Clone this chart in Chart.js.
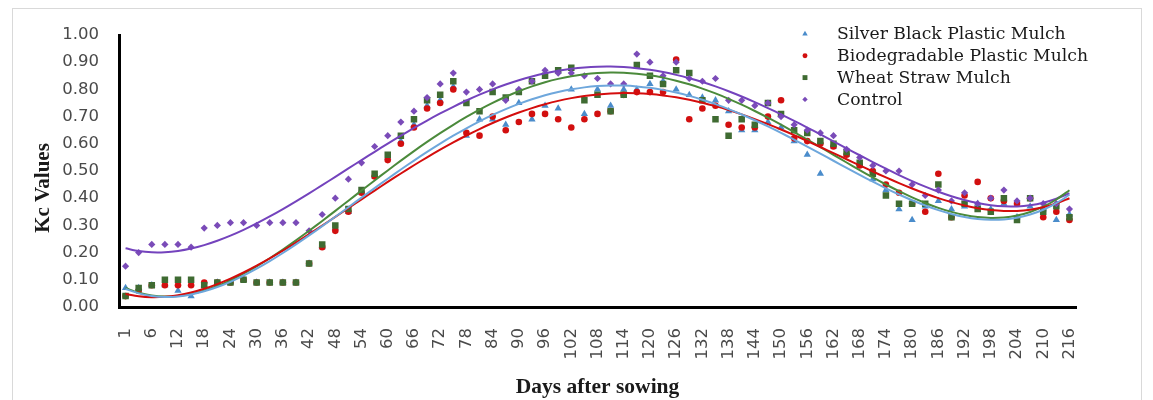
<!DOCTYPE html>
<html>
<head>
<meta charset="utf-8">
<script src="https://cdn.jsdelivr.net/npm/chart.js@4.4.1/dist/chart.umd.min.js"></script>
<style>
  html, body { margin: 0; padding: 0; background: #fff; }
  #wrap { position: relative; width: 1153px; height: 400px; overflow: hidden; }
  #frame { position: absolute; left: 12px; top: 8px; width: 1130px; height: 420px; border: 1px solid #d9d9d9; box-sizing: border-box; }
  #kc { position: absolute; left: 0; top: 0; }
</style>
</head>
<body>
<div id="wrap">
  <div id="frame"></div>
  <canvas id="kc" width="1153" height="400"></canvas>
</div>
<script>
// days after sowing (x categories)
const days = [1, 3, 6, 9, 12, 15, 18, 21, 24, 27, 30, 33, 36, 39, 42, 45, 48, 51, 54, 57,
  60, 63, 66, 69, 72, 75, 78, 81, 84, 87, 90, 93, 96, 99, 102, 105, 108, 111, 114, 117,
  120, 123, 126, 129, 132, 135, 138, 141, 144, 147, 150, 153, 156, 159, 162, 165, 168, 171,
  174, 177, 180, 183, 186, 189, 192, 195, 198, 201, 204, 207, 210, 213, 216];

const silverBlack = [0.07, 0.07, 0.08, 0.08, 0.06, 0.04, 0.08, 0.09, 0.09, 0.10, 0.09, 0.09, 0.09, 0.09, 0.16,
  0.22, 0.29, 0.35, 0.42, 0.48, 0.55, 0.61, 0.67, 0.74, 0.76, 0.81, 0.63, 0.69, 0.69, 0.67,
  0.75, 0.69, 0.74, 0.73, 0.80, 0.71, 0.80, 0.74, 0.80, 0.80, 0.82, 0.83, 0.80, 0.78, 0.77,
  0.76, 0.72, 0.65, 0.65, 0.68, 0.66, 0.61, 0.56, 0.49, 0.59, 0.56, 0.52, 0.47, 0.43, 0.36,
  0.32, 0.37, 0.39, 0.36, 0.37, 0.38, 0.36, 0.38, 0.33, 0.37, 0.36, 0.32, 0.34];

const biodegradable = [0.04, 0.06, 0.08, 0.08, 0.08, 0.08, 0.09, 0.09, 0.09, 0.10, 0.09, 0.09, 0.09, 0.09, 0.16,
  0.22, 0.28, 0.35, 0.42, 0.48, 0.54, 0.60, 0.66, 0.73, 0.75, 0.80, 0.64, 0.63, 0.70, 0.65,
  0.68, 0.71, 0.71, 0.69, 0.66, 0.69, 0.71, 0.72, 0.78, 0.79, 0.79, 0.79, 0.91, 0.69, 0.73,
  0.74, 0.67, 0.66, 0.66, 0.70, 0.76, 0.62, 0.61, 0.60, 0.59, 0.56, 0.52, 0.50, 0.45, 0.42,
  0.38, 0.35, 0.49, 0.33, 0.41, 0.46, 0.40, 0.39, 0.38, 0.40, 0.33, 0.35, 0.32];

const wheatStraw = [0.04, 0.07, 0.08, 0.10, 0.10, 0.10, 0.08, 0.09, 0.09, 0.10, 0.09, 0.09, 0.09, 0.09, 0.16,
  0.23, 0.30, 0.36, 0.43, 0.49, 0.56, 0.63, 0.69, 0.76, 0.78, 0.83, 0.75, 0.72, 0.79, 0.77,
  0.79, 0.83, 0.85, 0.87, 0.88, 0.76, 0.78, 0.72, 0.78, 0.89, 0.85, 0.82, 0.87, 0.86, 0.76,
  0.69, 0.63, 0.69, 0.67, 0.75, 0.71, 0.65, 0.64, 0.61, 0.60, 0.57, 0.53, 0.49, 0.41, 0.38,
  0.38, 0.38, 0.45, 0.33, 0.38, 0.36, 0.35, 0.40, 0.32, 0.40, 0.35, 0.37, 0.33];

const control = [0.15, 0.20, 0.23, 0.23, 0.23, 0.22, 0.29, 0.30, 0.31, 0.31, 0.30, 0.31, 0.31, 0.31, 0.28,
  0.34, 0.40, 0.47, 0.53, 0.59, 0.63, 0.68, 0.72, 0.77, 0.82, 0.86, 0.79, 0.80, 0.82, 0.76,
  0.80, 0.83, 0.87, 0.86, 0.86, 0.85, 0.84, 0.82, 0.82, 0.93, 0.90, 0.85, 0.90, 0.84, 0.83,
  0.84, 0.76, 0.76, 0.74, 0.75, 0.70, 0.67, 0.65, 0.64, 0.63, 0.58, 0.55, 0.52, 0.50, 0.50,
  0.45, 0.41, 0.43, 0.39, 0.42, 0.38, 0.40, 0.43, 0.39, 0.40, 0.38, 0.38, 0.36];

const yTicks = [0, 0.1, 0.2, 0.3, 0.4, 0.5, 0.6, 0.7, 0.8, 0.9, 1.0];

// least squares polynomial trendline, like the spreadsheet one
function trend(ys, degree) {
  const n = ys.length, mid = (n - 1) / 2, m = degree + 1;
  const xs = ys.map((_, i) => (i - mid) / mid);
  const A = [];
  for (let r = 0; r < m; r++) A.push(new Array(m + 1).fill(0));
  xs.forEach((x, k) => {
    for (let r = 0; r < m; r++) {
      for (let c = 0; c < m; c++) A[r][c] += Math.pow(x, r + c);
      A[r][m] += Math.pow(x, r) * ys[k];
    }
  });
  for (let p = 0; p < m; p++) {
    let best = p;
    for (let r = p + 1; r < m; r++) if (Math.abs(A[r][p]) > Math.abs(A[best][p])) best = r;
    const tmp = A[p]; A[p] = A[best]; A[best] = tmp;
    for (let r = 0; r < m; r++) {
      if (r === p) continue;
      const f = A[r][p] / A[p][p];
      for (let c = p; c <= m; c++) A[r][c] -= f * A[p][c];
    }
  }
  const coef = A.map((row, r) => row[m] / row[r]);
  return xs.map(x => coef.reduce((s, a, j) => s + a * Math.pow(x, j), 0));
}

const series = [
  { label: "Silver Black Plastic Mulch", data: silverBlack, color: "#4a8ccb", line: "#6ea7dc", style: "triangle", r: 4.2, order: 5 },
  { label: "Biodegradable Plastic Mulch", data: biodegradable, color: "#d20f0f", line: "#d40d0d", style: "circle", r: 3.3, order: 4 },
  { label: "Wheat Straw Mulch", data: wheatStraw, color: "#3f6b32", line: "#4b8a3b", style: "rect", r: 4.6, order: 3 },
  { label: "Control", data: control, color: "#7a4bb8", line: "#7443bd", style: "rectRot", r: 3.6, order: 2 }
];

const datasets = [];
series.forEach(s => {
  datasets.push({
    label: s.label, data: s.data, showLine: false,
    pointStyle: s.style, pointRadius: s.r, pointBackgroundColor: s.color,
    pointBorderColor: s.color, pointBorderWidth: 0, order: s.order
  });
});
series.forEach(s => {
  datasets.push({
    label: s.label + " trend", data: trend(s.data, 4), borderColor: s.line,
    borderWidth: 2, pointRadius: 0, tension: 0.3, order: 1
  });
});

// legend inside the plot and the left axis title
const extras = {
  id: "extras",
  afterDraw(chart) {
    const ctx = chart.ctx;
    ctx.save();
    ctx.font = "17.2px 'DejaVu Serif'";
    ctx.textBaseline = "middle";
    series.forEach((s, i) => {
      const y = 34 + i * 21.8;
      ctx.fillStyle = s.color;
      ctx.strokeStyle = s.color;
      Chart.helpers.drawPoint(ctx, { pointStyle: s.style, radius: s.r * 0.75, rotation: 0, borderWidth: 0 }, 805, y);
      ctx.fillStyle = "#1a1a1a";
      ctx.fillText(s.label, 837, y + 1);
    });
    ctx.translate(44, 188);
    ctx.rotate(-Math.PI / 2);
    ctx.textAlign = "center";
    ctx.font = "bold 21px 'Liberation Serif'";
    ctx.fillText("Kc Values", 0, 0);
    ctx.restore();
  }
};

new Chart(document.getElementById("kc"), {
  type: "line",
  data: { labels: days, datasets: datasets },
  plugins: [extras],
  options: {
    responsive: false,
    animation: false,
    devicePixelRatio: 1,
    layout: { padding: { left: 30, right: 77, top: 35, bottom: 0 } },
    plugins: { legend: { display: false }, tooltip: { enabled: false } },
    scales: {
      x: {
        type: "category",
        offset: true,
        grid: { display: false, drawTicks: false },
        border: { display: true, color: "#000", width: 3 },
        ticks: {
          autoSkip: false, maxRotation: 90, minRotation: 90, padding: 21,
          color: "#4a4a4a", font: { family: "'DejaVu Sans'", size: 16.5 },
          callback: function (v, i) { return i % 2 === 0 ? days[i] : ""; }
        },
        title: {
          display: true, text: "Days after sowing", color: "#1a1a1a",
          font: { family: "'Liberation Serif'", size: 21.5, weight: "bold" },
          padding: { top: 0, bottom: 0 }
        },
        afterFit(scale) { scale.height = 93; }
      },
      y: {
        min: 0, max: 1,
        grid: { display: false, drawTicks: false },
        border: { display: true, color: "#000", width: 3 },
        afterBuildTicks(scale) { scale.ticks = yTicks.map(v => ({ value: v })); },
        ticks: {
          padding: 20, color: "#4a4a4a",
          font: { family: "'DejaVu Sans'", size: 16.5 },
          callback: v => v.toFixed(2)
        },
        afterFit(scale) { scale.width = 89; }
      }
    }
  }
});
</script>
</body>
</html>
